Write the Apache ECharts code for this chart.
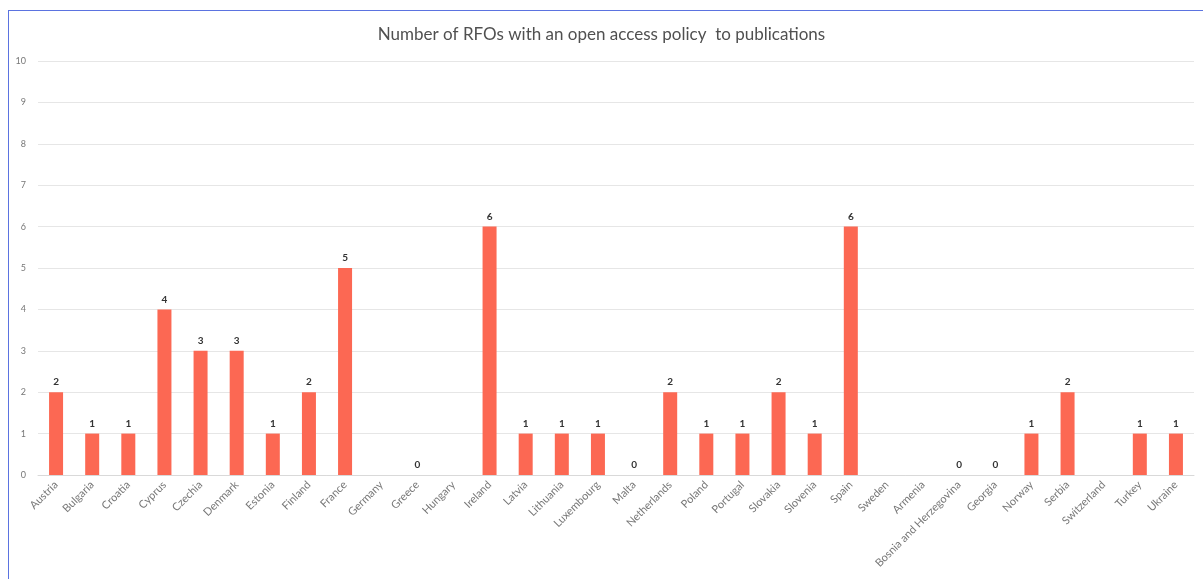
<!DOCTYPE html>
<html>
<head>
<meta charset="utf-8">
<script src="https://cdn.jsdelivr.net/npm/echarts@6/dist/echarts.min.js"></script>
<style>
  body { margin: 0; background: #fff; }
  #chart { width: 1203px; height: 579px; }
  #frame { position: absolute; left: 8px; top: 10px; width: 1195px; height: 569px;
           border-top: 1px solid #5b73e0; border-left: 1px solid #5b73e0; pointer-events: none; }
</style>
</head>
<body>
<div id="chart"></div>
<div id="frame"></div>
<script>
var countries = ['Austria','Bulgaria','Croatia','Cyprus','Czechia','Denmark','Estonia','Finland','France','Germany',
  'Greece','Hungary','Ireland','Latvia','Lithuania','Luxembourg','Malta','Netherlands','Poland','Portugal',
  'Slovakia','Slovenia','Spain','Sweden','Armenia','Bosnia and Herzegovina','Georgia','Norway','Serbia','Switzerland',
  'Turkey','Ukraine'];
var rfoCounts = [2,1,1,4,3,3,1,2,5,null,
  0,null,6,1,1,1,0,2,1,1,
  2,1,6,null,null,0,0,1,2,null,
  1,1];
var yTicks = [0,10,1];

var chart = echarts.init(document.getElementById('chart'));
var option = {
    title: {
        text: 'Number of RFOs with an open access policy  to publications',
        left: 'center',
        top: 21,
        textStyle: { fontFamily: 'Lato', fontSize: 17, fontWeight: 'normal', color: '#505050' }
    },
    grid: { left: 38, right: 9, top: 61, bottom: 104 },
    xAxis: {
        type: 'category',
        data: countries,
        axisLine: { lineStyle: { color: '#d9d9d9' } },
        axisTick: { show: false },
        axisLabel: { rotate: 45, interval: 0, fontFamily: 'Lato', fontSize: 11, color: '#777', margin: 8 }
    },
    yAxis: {
        type: 'value',
        min: yTicks[0],
        max: yTicks[1],
        interval: yTicks[2],
        axisLine: { show: false },
        axisTick: { show: false },
        splitLine: { lineStyle: { color: '#e6e6e6' } },
        axisLabel: { fontFamily: 'Lato', fontSize: 9, color: '#777', margin: 12 }
    },
    series: [{
        type: 'bar',
        data: rfoCounts,
        barWidth: 14,
        itemStyle: { color: '#fc6853' },
        label: {
            show: true,
            position: 'top',
            distance: 5,
            fontFamily: 'Lato',
            fontSize: 10,
            fontWeight: 'bold',
            color: '#333'
        }
    }]
};
chart.setOption(option);
</script>
</body>
</html>
